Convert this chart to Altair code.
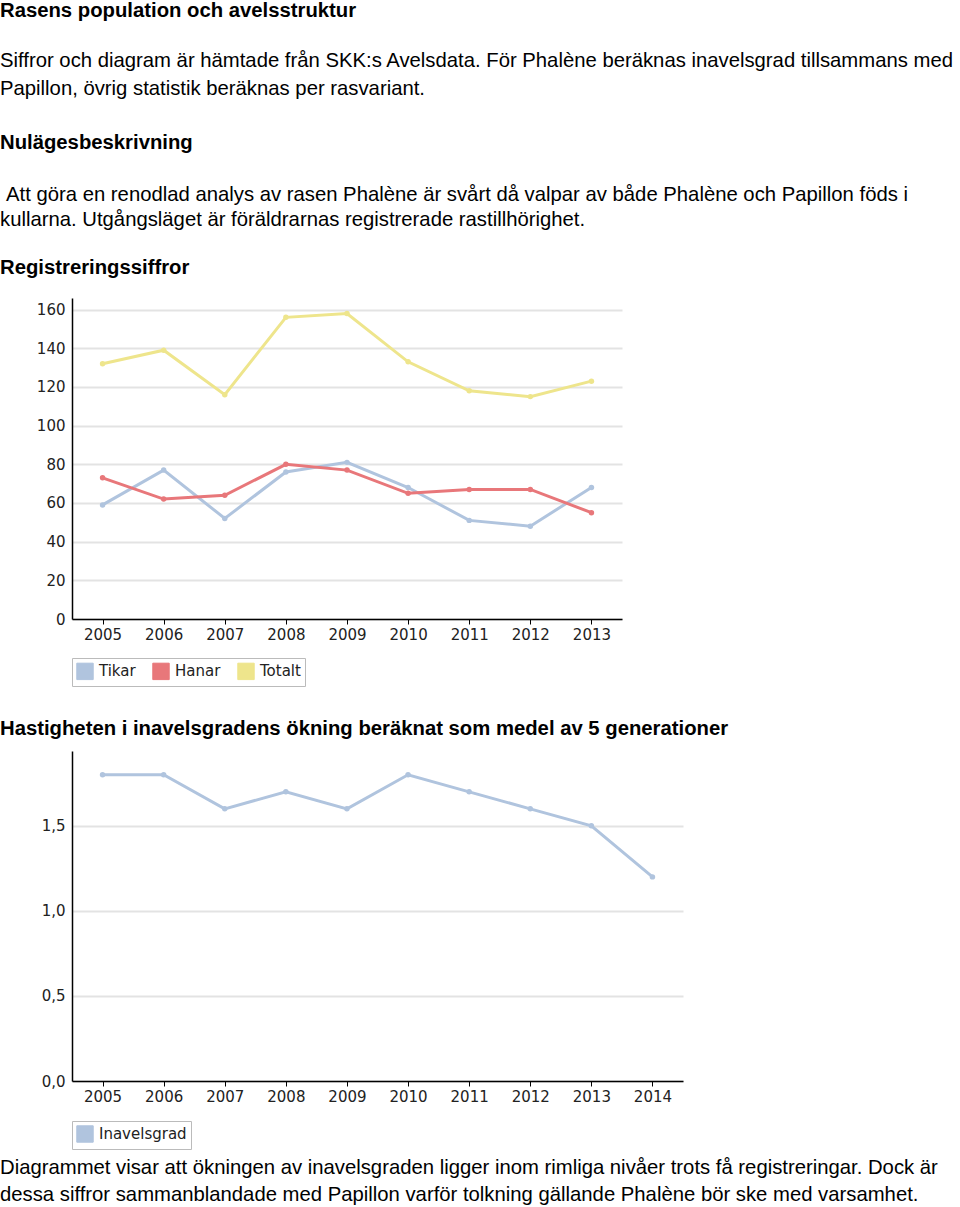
import altair as alt
import pandas as pd

# ---------------- data ----------------
years1 = ["2005", "2006", "2007", "2008", "2009", "2010", "2011", "2012", "2013"]
tikar = [59, 77, 52, 76, 81, 68, 51, 48, 68]
hanar = [73, 62, 64, 80, 77, 65, 67, 67, 55]
totalt = [132, 139, 116, 156, 158, 133, 118, 115, 123]
series1 = ["Tikar", "Hanar", "Totalt"]
colors1 = ["#b0c4de", "#e8777a", "#eee58c"]

years2 = ["2005", "2006", "2007", "2008", "2009", "2010", "2011", "2012", "2013", "2014"]
inavel = [1.8, 1.8, 1.6, 1.7, 1.6, 1.8, 1.7, 1.6, 1.5, 1.2]
series2 = ["Inavelsgrad"]
colors2 = ["#b0c4de"]

y1_ticks = [0, 20, 40, 60, 80, 100, 120, 140, 160]
y2_ticks = [0, 0.5, 1.0, 1.5]

heading1 = "Rasens population och avelsstruktur"
para1 = ["Siffror och diagram är hämtade från SKK:s Avelsdata. För Phalène beräknas inavelsgrad tillsammans med",
         "Papillon, övrig statistik beräknas per rasvariant."]
heading2 = "Nulägesbeskrivning"
para2 = ["Att göra en renodlad analys av rasen Phalène är svårt då valpar av både Phalène och Papillon föds i",
         "kullarna. Utgångsläget är föräldrarnas registrerade rastillhörighet."]
heading3 = "Registreringssiffror"
heading4 = "Hastigheten i inavelsgradens ökning beräknat som medel av 5 generationer"
para4 = ["Diagrammet visar att ökningen av inavelsgraden ligger inom rimliga nivåer trots få registreringar. Dock är",
         "dessa siffror sammanblandade med Papillon varför tolkning gällande Phalène bör ske  med varsamhet."]

df1 = pd.DataFrame({
    "year": years1 * 3,
    "serie": ["Tikar"] * 9 + ["Hanar"] * 9 + ["Totalt"] * 9,
    "value": tikar + hanar + totalt,
})
df2 = pd.DataFrame({"year": years2, "serie": ["Inavelsgrad"] * 10, "value": inavel})

TXT_FONT = "Liberation Sans"
TXT_SIZE = 20.3
AX_FONT = "DejaVu Sans"
X0 = -72


def text_line(s, x, y, bold=False):
    return alt.Chart(pd.DataFrame({"t": [s]})).mark_text(
        align="left", baseline="middle", font=TXT_FONT, fontSize=TXT_SIZE,
        fontWeight="bold" if bold else "normal", color="#000000"
    ).encode(text="t:N", x=alt.value(x), y=alt.value(y))


def text_block(lines, height):
    return alt.layer(*[text_line(s, X0 + dx, y, b) for (s, dx, y, b) in lines]).properties(
        width=550, height=height)


def legend_def(ly):
    return alt.Legend(
        title=None, orient="none", legendX=0, legendY=ly, direction="horizontal",
        symbolType="square", symbolSize=270, symbolStrokeColor="#555555",
        symbolStrokeWidth=1,
        labelFont=AX_FONT, labelFontSize=15, labelColor="#222222",
        padding=4, strokeColor="#bbbbbb", fillColor="#ffffff",
        columnPadding=14, labelOffset=5,
    )


def x_axis():
    return alt.Axis(title=None, labelAngle=0, labelFont=AX_FONT, labelFontSize=15,
                    labelColor="#222222", domainColor="#000000", domainWidth=1.5,
                    ticks=True, tickColor="#000000", tickSize=5, labelPadding=3, grid=False)


def y_axis(values, label_expr=None):
    kw = dict(title=None, values=values, labelFont=AX_FONT, labelFontSize=15,
              labelColor="#222222", domainColor="#000000", domainWidth=1.5,
              ticks=False, labelPadding=7, grid=True, gridColor="#e3e3e3", gridWidth=2)
    if label_expr:
        kw["labelExpr"] = label_expr
    return alt.Axis(**kw)


# ---------------- text block 1 (1 .. 297) ----------------
block1 = text_block([
    (heading1, 0, 9, True),
    (para1[0], 0, 59, False),
    (para1[1], 0, 87, False),
    (heading2, 0, 141, True),
    (para2[0], 6, 193, False),
    (para2[1], 0, 218, False),
    (heading3, 0, 266, True),
], 296)

# ---------------- chart 1 ----------------
base1 = alt.Chart(df1).encode(
    x=alt.X("year:O", scale=alt.Scale(type="point", padding=0.5), axis=x_axis()),
    y=alt.Y("value:Q", scale=alt.Scale(domain=[0, 166], nice=False, zero=True), axis=y_axis(y1_ticks)),
    color=alt.Color("serie:N", scale=alt.Scale(domain=series1, range=colors1), legend=legend_def(360)),
)
points1 = base1.mark_point(filled=True, size=30, opacity=1)
lines1 = base1.mark_line(strokeWidth=3)
chart1 = alt.layer(points1, lines1).properties(width=550, height=321)

# ---------------- text block 2 (686 .. 750) ----------------
block2 = text_block([(heading4, 0, 42, True)], 64)

# ---------------- chart 2 ----------------
base2 = alt.Chart(df2).encode(
    x=alt.X("year:O", scale=alt.Scale(type="point", padding=0.5), axis=x_axis()),
    y=alt.Y("value:Q", scale=alt.Scale(domain=[0, 1.94], nice=False, zero=True),
            axis=y_axis(y2_ticks, "replace(format(datum.value, '.1f'), '.', ',')")),
    color=alt.Color("serie:N", scale=alt.Scale(domain=series2, range=colors2), legend=legend_def(370)),
)
points2 = base2.mark_point(filled=True, size=30, opacity=1)
lines2 = base2.mark_line(strokeWidth=3)
chart2 = alt.layer(points2, lines2).properties(width=611, height=330)

# ---------------- text block 3 (1148 .. ) ----------------
block3 = text_block([(para4[0], 0, 18, False), (para4[1], 0, 45, False)], 58)

chart = alt.vconcat(block1, chart1, block2, chart2, block3, spacing=0).resolve_scale(
    color="independent"
).properties(
    padding={"left": 0, "top": 1, "right": 0, "bottom": 0},
    background="#ffffff",
).configure_view(stroke=None)

chart.save("out.html", embed_options={"renderer": "svg", "actions": False})
